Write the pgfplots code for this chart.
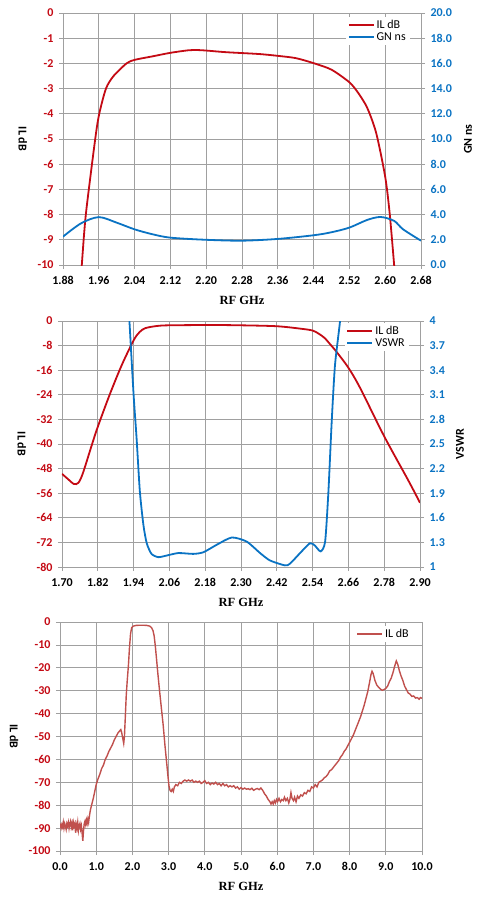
\documentclass[border=0pt]{standalone}
\usepackage{pgfplots}
\pgfplotsset{compat=1.18}
\usepackage{fontspec}
\setmainfont{Carlito}
\newfontfamily\serifbold{Liberation Serif}
\definecolor{ILred}{RGB}{196,10,20}
\definecolor{GNblue}{RGB}{10,115,195}
\definecolor{ILthree}{RGB}{192,80,77}
\definecolor{gridgray}{RGB}{160,160,160}
\newcommand{\tickfont}{\fontsize{12}{13}\selectfont\bfseries}
\newcommand{\legfont}{\fontsize{12}{13}\selectfont}
\pgfplotsset{
  base/.style={
    scale only axis,
    axis line style={gridgray, line width=0.8pt},
    major grid style={gridgray, line width=0.8pt},
    tick style={gridgray, line width=0.8pt},
    major tick length=4pt,
    tick align=outside,
    ticklabel style={font=\tickfont},
    xticklabel style={/tikz/yshift=-4pt},
    /pgf/number format/assume math mode=true,
    xlabel style={font=\serifbold\bfseries\fontsize{12.5}{13}\selectfont, at={(axis description cs:0.5,0)}, anchor=center, yshift=-35pt},
    legend cell align=left,
    legend image code/.code={\draw[#1] (0pt,0pt) -- (25pt,0pt);},
    legend style={draw=none, fill=white, font=\legfont, inner xsep=2pt, inner ysep=1pt, row sep=-1.5pt, anchor=north east},
  },
  ylab/.style={ylabel style={font=\bfseries\fontsize{12}{13}\selectfont, at={(axis description cs:#1,0.5)}, anchor=center, rotate=180}, yticklabel style={/tikz/xshift=-2pt}},
  ylabr/.style={ylabel style={font=\bfseries\fontsize{12}{13}\selectfont, at={(axis description cs:#1,0.5)}, anchor=center}, yticklabel style={/tikz/xshift=2pt}},
}
\begin{document}
\begin{tikzpicture}
\useasboundingbox (0pt,0pt) rectangle (481pt,-899pt);
%================ Chart 1
\begin{axis}[base, at={(63pt,-265pt)}, anchor=south west, width=358pt, height=252pt,
  xmin=1.88, xmax=2.68, ymin=-10, ymax=0,
  xtick={1.88,1.96,2.04,2.12,2.20,2.28,2.36,2.44,2.52,2.60,2.68},
  ytick={-10,-9,...,0},
  xtick pos=bottom, ytick pos=left, grid=major,
  xticklabel style={/pgf/number format/.cd, fixed, fixed zerofill, precision=2},
  yticklabel style={text=ILred},
  xlabel={RF GHz}, ylabel={IL dB}, ylab=-0.112]
\addplot[ILred, line width=1.8pt, smooth, tension=0.45] coordinates {
(1.9198,-10.5) (1.922,-10) (1.931,-8) (1.952,-5) (1.961,-4) (1.976,-3) (1.993,-2.5) (2.022,-2.0) (2.04,-1.86) (2.08,-1.72) (2.12,-1.58) (2.16,-1.48) (2.18,-1.47) (2.20,-1.49) (2.24,-1.55) (2.28,-1.59) (2.32,-1.63) (2.36,-1.70) (2.40,-1.79) (2.44,-1.99) (2.48,-2.25) (2.52,-2.75) (2.54,-3.18) (2.56,-3.77) (2.58,-4.77) (2.60,-6.5) (2.61,-7.95) (2.62,-10) (2.6224,-10.5)};
\end{axis}
\begin{axis}[base, at={(63pt,-265pt)}, anchor=south west, width=358pt, height=252pt,
  xmin=1.88, xmax=2.68, ymin=0, ymax=20,
  axis y line*=right, axis x line=none,
  ytick={0,2,...,20},
  ylabel={GN ns}, ylabr=1.131,
  yticklabel style={text=GNblue, /pgf/number format/.cd, fixed, fixed zerofill, precision=1},
  legend style={at={(axis description cs:0.969,0.984)}}]
\addlegendimage{ILred, line width=1.8pt}
\addlegendentry{IL dB}
\addplot[GNblue, line width=1.8pt, smooth] coordinates {
(1.88,2.25) (1.92,3.3) (1.96,3.8) (2.00,3.36) (2.04,2.83) (2.08,2.44) (2.12,2.17) (2.20,2.0) (2.28,1.93) (2.36,2.07) (2.44,2.36) (2.48,2.6) (2.52,2.97) (2.56,3.58) (2.59,3.81) (2.62,3.5) (2.64,2.83) (2.68,1.93)};
\addlegendentry{GN ns}
\end{axis}
%================ Chart 2
\begin{axis}[base, at={(62pt,-567pt)}, anchor=south west, width=358pt, height=246pt,
  xmin=1.70, xmax=2.90, ymin=-80, ymax=0,
  xtick={1.70,1.82,1.94,2.06,2.18,2.30,2.42,2.54,2.66,2.78,2.90},
  ytick={-80,-72,...,0},
  xtick pos=bottom, ytick pos=left, grid=major,
  xticklabel style={/pgf/number format/.cd, fixed, fixed zerofill, precision=2},
  yticklabel style={text=ILred},
  xlabel={RF GHz}, ylabel={IL dB}, ylab=-0.112]
\addplot[ILred, line width=1.8pt, smooth, tension=0.5] coordinates {
(1.70,-49.7) (1.72,-51.4) (1.74,-53.0) (1.755,-52.6) (1.77,-49.5) (1.80,-40.3) (1.82,-34.4) (1.86,-23.9) (1.90,-14.4) (1.94,-6.3) (1.96,-3.6) (1.98,-2.3) (2.02,-1.6) (2.06,-1.4) (2.20,-1.3) (2.30,-1.4) (2.42,-1.7) (2.50,-2.5) (2.54,-3.1) (2.56,-4.1) (2.58,-5.5) (2.60,-7.7) (2.62,-10) (2.66,-15.2) (2.70,-21.9) (2.78,-37.5) (2.86,-51.7) (2.90,-59.1)};
\end{axis}
\begin{axis}[base, at={(62pt,-567pt)}, anchor=south west, width=358pt, height=246pt,
  xmin=1.70, xmax=2.90, ymin=1, ymax=4,
  axis y line*=right, axis x line=none,
  ytick={1,1.3,...,4.01},
  ylabel={VSWR}, ylabr=1.112,
  yticklabel style={text=GNblue, /pgf/number format/.cd, fixed, precision=1},
  legend style={at={(axis description cs:0.969,0.992)}}]
\addlegendimage{ILred, line width=1.8pt}
\addlegendentry{IL dB}
\addplot[GNblue, line width=1.8pt, smooth, tension=0.4] coordinates {
(1.918,4.5) (1.926,4.0) (1.940,3.10) (1.950,2.57) (1.961,1.92) (1.973,1.51) (1.984,1.29) (2.000,1.16) (2.023,1.12) (2.051,1.14) (2.090,1.17) (2.140,1.16) (2.174,1.18) (2.218,1.27) (2.269,1.36) (2.319,1.31) (2.364,1.17) (2.397,1.08) (2.447,1.02) (2.464,1.04) (2.498,1.17) (2.531,1.29) (2.548,1.26) (2.567,1.19) (2.582,1.31) (2.593,1.92) (2.604,2.77) (2.615,3.46) (2.632,4.0) (2.64,4.4)};
\addlegendentry{VSWR}
\end{axis}
%================ Chart 3
\begin{axis}[base, at={(60pt,-851pt)}, anchor=south west, width=362pt, height=229pt,
  xmin=0, xmax=10, ymin=-100, ymax=0,
  xtick={0,1,...,10}, ytick={-100,-90,...,0},
  xtick pos=bottom, ytick pos=left, grid=major,
  xticklabel style={/pgf/number format/.cd, fixed, fixed zerofill, precision=1},
  yticklabel style={text=ILred},
  xlabel={RF GHz}, ylabel={IL dB}, ylab=-0.127,
  legend style={at={(axis description cs:0.975,0.983)}}]
\addplot[ILthree, line width=1.4pt] coordinates {
(0.00,-88) (0.03,-90) (0.05,-88.5) (0.07,-89.5) (0.09,-87.5) (0.11,-90) (0.13,-88) (0.15,-89) (0.17,-90.5) (0.19,-88) (0.21,-89) (0.23,-87.5) (0.25,-90) (0.27,-88) (0.29,-87) (0.31,-89.5) (0.33,-88) (0.35,-91) (0.37,-87.5) (0.39,-89) (0.41,-88) (0.43,-92) (0.45,-88.5) (0.47,-90) (0.49,-87.5) (0.51,-91) (0.53,-89) (0.55,-88) (0.57,-90.5) (0.59,-89) (0.61,-92) (0.63,-95.5) (0.65,-91) (0.67,-88) (0.69,-87) (0.71,-88.5) (0.73,-86.5) (0.75,-88) (0.77,-86) (0.79,-87.5)
(0.81,-85) (0.84,-82) (0.88,-79.5) (0.92,-77) (0.96,-74) (1.00,-71) (1.05,-68.5) (1.10,-66.5) (1.15,-64) (1.20,-62.5) (1.25,-60) (1.30,-58.5) (1.35,-56.5) (1.40,-55) (1.45,-53.5) (1.50,-51.5) (1.55,-50) (1.60,-48.5) (1.65,-47.5) (1.68,-47) (1.70,-48) (1.73,-50.5) (1.76,-53) (1.78,-50) (1.80,-43) (1.83,-32) (1.86,-25) (1.89,-19) (1.92,-11) (1.95,-5) (1.98,-2.5) (2.02,-1.8) (2.10,-1.5) (2.20,-1.4) (2.30,-1.4) (2.40,-1.5) (2.48,-1.8) (2.53,-2.5) (2.57,-3.8) (2.60,-6) (2.63,-10) (2.66,-15) (2.70,-22) (2.75,-30) (2.80,-37.5) (2.85,-45) (2.90,-54) (2.95,-62) (2.98,-67) (3.01,-71.5) (3.04,-73.5) (3.07,-74) (3.10,-73) (3.13,-74) (3.16,-72) (3.20,-71) (3.25,-71.5) (3.30,-70) (3.35,-70.5) (3.40,-69.5) (3.45,-69) (3.50,-69.5) (3.55,-69) (3.60,-69.5) (3.65,-69) (3.70,-70) (3.75,-69.5) (3.80,-70) (3.85,-69.5) (3.90,-70.5) (3.95,-70) (4.00,-69.3) (4.05,-70.5) (4.10,-70) (4.15,-71) (4.20,-70.3) (4.25,-70.8) (4.30,-70) (4.35,-71) (4.40,-70.5) (4.45,-71.5) (4.50,-70.5) (4.55,-71.5) (4.60,-71) (4.65,-72) (4.70,-71.5) (4.75,-72) (4.80,-71.5) (4.85,-72.5) (4.90,-72) (4.95,-73) (5.00,-72.3) (5.05,-73) (5.10,-72.5) (5.15,-73) (5.20,-72.8) (5.25,-73.2) (5.30,-72.6) (5.35,-73.5) (5.40,-73) (5.45,-72.7) (5.50,-73.2) (5.55,-72.5) (5.60,-73.5) (5.65,-75) (5.70,-76) (5.75,-77.5) (5.80,-78.5) (5.83,-79.5) (5.86,-78.5) (5.89,-79.5) (5.92,-78) (5.95,-79) (5.98,-77.5) (6.01,-78.5) (6.05,-77) (6.09,-78.5) (6.13,-77.5) (6.17,-78) (6.20,-76.5) (6.24,-78) (6.28,-77) (6.32,-79) (6.35,-77.5) (6.38,-74.5) (6.41,-77) (6.45,-78) (6.48,-76.5) (6.52,-78.5) (6.56,-76) (6.60,-77) (6.65,-75.5) (6.70,-76) (6.75,-74.5) (6.80,-75) (6.85,-73.5) (6.90,-74) (6.95,-72) (7.00,-72.5) (7.05,-71) (7.10,-72) (7.15,-70) (7.20,-69.5) (7.25,-69) (7.30,-68) (7.35,-67.5) (7.40,-66.5) (7.45,-65) (7.50,-64.5) (7.55,-63.5) (7.60,-62.5) (7.65,-61.5) (7.70,-60.5) (7.75,-59) (7.80,-58) (7.85,-56.5) (7.90,-55.5) (7.95,-54) (8.00,-52.5) (8.05,-51) (8.10,-49.5) (8.15,-47.5) (8.20,-45.5) (8.25,-43.5) (8.30,-41.5) (8.35,-39) (8.40,-36.5) (8.45,-33.5) (8.50,-30.5) (8.55,-26.5) (8.59,-23) (8.62,-21.5) (8.65,-22.5) (8.70,-25.5) (8.75,-27.5) (8.80,-28.5) (8.85,-29.3) (8.90,-29.8) (8.95,-29.5) (9.00,-29) (9.05,-28) (9.10,-26) (9.15,-24.5) (9.20,-22) (9.25,-19) (9.29,-17) (9.33,-18.5) (9.37,-21) (9.42,-23.5) (9.47,-25.5) (9.52,-28) (9.57,-29.5) (9.62,-31) (9.67,-31.5) (9.72,-32.5) (9.77,-32.3) (9.82,-33.2) (9.87,-33) (9.92,-33.7) (9.96,-33) (10.0,-33.3)};
\addlegendentry{IL dB}
\end{axis}
\end{tikzpicture}
\end{document}
